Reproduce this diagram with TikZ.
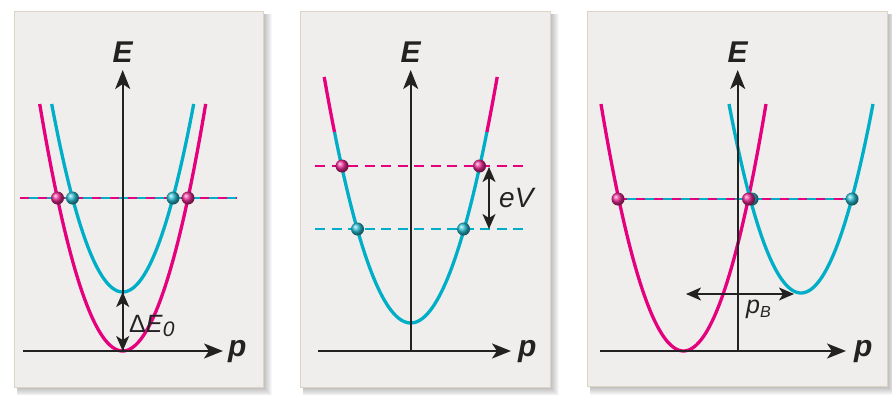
\documentclass[tikz,border=0pt]{standalone}
\usepackage{fontspec}
\setmainfont{Liberation Sans}
\usetikzlibrary{arrows.meta}
\definecolor{mag}{HTML}{E5007D}
\definecolor{cyn}{HTML}{00AEC7}
\definecolor{panelbg}{HTML}{EFEEEC}
\definecolor{panelbd}{HTML}{DCD5C5}
\definecolor{axcol}{HTML}{222222}
\begin{document}
\begin{tikzpicture}[x=1pt,y=-1pt,
  axis/.style={axcol,line width=1.8pt,-{Stealth[length=19pt,width=15pt,inset=5pt]}},
  dim/.style={axcol,line width=1.7pt,{Stealth[length=15pt,width=13pt,inset=4pt]}-{Stealth[length=15pt,width=13pt,inset=4pt]}},
  curve/.style={line width=3.3pt},
  axlabel/.style={inner sep=0pt,font=\fontsize{30}{32}\selectfont\bfseries\itshape,text=axcol},
  dimlabel/.style={inner sep=0pt,text=axcol},
  panel/.style={fill=panelbg,draw=panelbd,line width=0.8pt},
  dotm/.style={ball color=mag!85!white},
  dotc/.style={ball color=cyn!85!white}]
\useasboundingbox (0,0) rectangle (892,394);
\fill[white] (0,0) rectangle (892,394);
% shadows
\foreach \a/\b/\c/\d in {14/11/263/387, 300/11/550/387, 587/11/887/386}{
  \foreach \s in {1,...,9}{
    \fill[black,opacity=0.03] (\a+3,\b+3) rectangle (\c+\s,\d+\s);
  }
}
% panels
\draw[panel] (14,11) rectangle (263,387);
\draw[panel] (300,11) rectangle (550,387);
\draw[panel] (587,11) rectangle (887,386);

% ================= Panel 1 =================
\coordinate (o1) at (122.7,351);
\coordinate (e1) at (122.7,70);
\coordinate (pl1) at (23,351);
\coordinate (pr1) at (223,351);
\coordinate (c1) at (122.7,292);
\draw[mag,curve] plot[domain=-83:83,samples=60,smooth] ({122.7+\x},{351-0.03586*\x*\x});
\draw[cyn,curve] plot[domain=-71:71,samples=60,smooth] ({122.7+\x},{292-0.03729*\x*\x});
\coordinate (h1l) at (20,198);
\coordinate (h1r) at (237,198);
\draw[cyn,line width=1.8pt] (h1l) -- (h1r);
\draw[mag,line width=1.8pt,dash pattern=on 9pt off 9pt] (h1l) -- (h1r);
\draw[axis] (o1) -- (e1);
\draw[axis] (pl1) -- (pr1);
\draw[dim] (c1) -- (o1);
\node[axlabel,anchor=base] (E1) at (122.7,62) {E};
\node[axlabel,anchor=base west] (P1) at (228,356) {p};
\node[dimlabel,anchor=base west,font=\fontsize{25}{27}\selectfont] (dE) at (129,332) {Δ\textit{E}\raisebox{-4pt}{\fontsize{21}{22}\selectfont\textit{0}}};
\shade[dotm] (57.5,198) circle (6.5pt);
\shade[dotm] (188,198) circle (6.5pt);
\shade[dotc] (72.5,198) circle (6.5pt);
\shade[dotc] (173,198) circle (6.5pt);

% ================= Panel 2 =================
\coordinate (o2) at (410.7,351);
\coordinate (e2) at (410.7,70);
\coordinate (pl2) at (318,351);
\coordinate (pr2) at (511,351);
\draw[cyn,curve] plot[domain=-76.2:76.2,samples=60,smooth] ({410.7+\x},{323-0.03288*\x*\x});
\draw[mag,curve] plot[domain=-86.5:-76.2,samples=10,smooth] ({410.7+\x},{323-0.03288*\x*\x});
\draw[mag,curve] plot[domain=76.2:86.5,samples=10,smooth] ({410.7+\x},{323-0.03288*\x*\x});
\coordinate (m2l) at (315,166);
\coordinate (m2r) at (525,166);
\coordinate (c2l) at (315,229);
\coordinate (c2r) at (525,229);
\draw[mag,line width=1.8pt,dash pattern=on 10pt off 6.5pt] (m2l) -- (m2r);
\draw[cyn,line width=1.8pt,dash pattern=on 10pt off 6.5pt] (c2l) -- (c2r);
\draw[axis] (o2) -- (e2);
\draw[axis] (pl2) -- (pr2);
\coordinate (v2t) at (489,167);
\coordinate (v2b) at (489,229);
\draw[dim] (v2t) -- (v2b);
\node[axlabel,anchor=base] (E2) at (410.7,62) {E};
\node[axlabel,anchor=base west] (P2) at (518,356) {p};
\node[dimlabel,anchor=base west,font=\fontsize{28}{30}\selectfont\itshape] (eV) at (499,207) {eV};
\shade[dotm] (342,166) circle (6.5pt);
\shade[dotm] (479.5,166) circle (6.5pt);
\shade[dotc] (357.5,229) circle (6.5pt);
\shade[dotc] (463.5,229) circle (6.5pt);

% ================= Panel 3 =================
\coordinate (o3) at (737.7,351);
\coordinate (e3) at (737.7,70);
\coordinate (pl3) at (600,351);
\coordinate (pr3) at (846,351);
\draw[mag,curve] plot[domain=-82.5:82.5,samples=60,smooth] ({683.5+\x},{351-0.03629*\x*\x});
\draw[cyn,curve] plot[domain=-72:72,samples=60,smooth] ({801+\x},{293-0.03646*\x*\x});
\coordinate (h3l) at (618,199);
\coordinate (h3r) at (852,199);
\draw[cyn,line width=1.8pt] (h3l) -- (h3r);
\draw[mag,line width=1.8pt,dash pattern=on 9pt off 9pt] (h3l) -- (h3r);
\draw[axis] (o3) -- (e3);
\draw[axis] (pl3) -- (pr3);
\coordinate (b3l) at (686,294);
\coordinate (b3r) at (794,294);
\draw[dim] (b3l) -- (b3r);
\node[axlabel,anchor=base] (E3) at (737.7,62) {E};
\node[axlabel,anchor=base west] (P3) at (854,356) {p};
\node[dimlabel,anchor=base west,font=\fontsize{25}{27}\selectfont] (pB) at (746,313) {\textit{p}\raisebox{-4pt}{\fontsize{16}{17}\selectfont\textit{B}}};
\shade[dotc] (752,199) circle (6.5pt);
\shade[dotm] (618,199) circle (6.5pt);
\shade[dotm] (748.5,199) circle (6.5pt);
\shade[dotc] (852,199) circle (6.5pt);
\end{tikzpicture}
\end{document}
